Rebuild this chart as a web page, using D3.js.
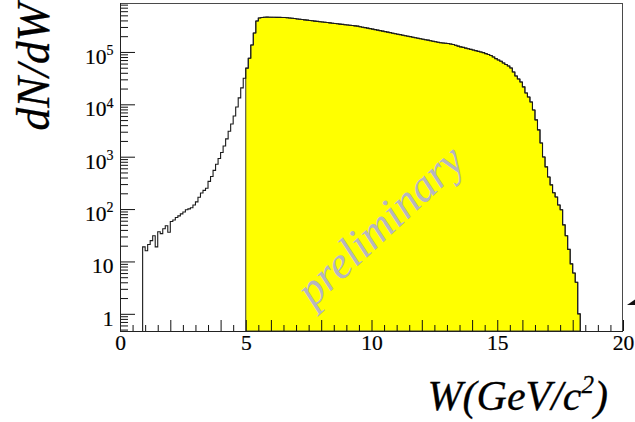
<!DOCTYPE html>
<html>
<head>
<meta charset="utf-8">
<script src="https://cdn.jsdelivr.net/npm/d3@7"></script>
<style>
  html, body { margin: 0; padding: 0; background: #ffffff; }
  svg { display: block; }
</style>
</head>
<body>
<svg id="chart" width="635" height="422"></svg>
<script>
// Invariant-mass spectrum W, 0.1 GeV/c^2 bins starting at 0.9 GeV/c^2
const binStart = 0.9;
const binWidth = 0.1;
const counts = [
  19, 16, 21, 25, 31, 19, 37, 34, 42, 48,
  36, 58, 62, 69, 74, 81, 88, 97, 101, 106,
  120, 137, 168, 203, 228, 249, 338, 420, 548, 717,
  925, 1200, 1600, 2190, 3060, 4200, 6000, 8900, 13300, 20600,
  31500, 49000, 76000, 136000, 230000, 390000, 446000, 455000, 460000, 462000,
  461000, 460000, 459000, 458000, 457000, 456000, 455000, 450000, 444000, 440000,
  434000, 427000, 422000, 416000, 410000, 405000, 399000, 394000, 388000, 383000,
  378000, 374000, 369000, 364000, 359000, 354000, 350000, 345000, 340000, 336000,
  331000, 328000, 323000, 319000, 315000, 311000, 303000, 297000, 291000, 285000,
  279000, 273000, 267000, 261000, 255000, 250000, 244000, 239000, 234000, 228000,
  223000, 218000, 214000, 209000, 204000, 200000, 196000, 191000, 187000, 183000,
  179000, 175000, 171000, 168000, 164000, 160000, 157000, 153000, 150000, 148000,
  146500, 144500, 142000, 139000, 134000, 129000, 125000, 122000, 118500, 115000,
  112000, 108600, 105800, 102600, 100000, 97000, 93000, 89600, 85400, 80300,
  74600, 70300, 66500, 61600, 57600, 54000, 49500, 41500, 34800, 30500,
  26700, 21500, 16500, 13800, 11100, 7800, 5040, 3250, 1830, 990,
  640, 410, 290, 205, 170, 120, 97, 50, 31, 17,
  9, 6, 4, 1
];
// selection cut: W > 5 GeV/c^2 is shaded
const cutW = 5.0;

// axis ranges and tick labels
const xDomain = [0, 20];
const yDomain = [0.47, 8.6e5];
const xTickLabels = [0, 5, 10, 15, 20];
const yTickValues = [1, 10, 100, 1000, 10000, 100000];
const yTickBase = ["1", "10", "10", "10", "10", "10"];
const yTickExp = ["", "", "2", "3", "4", "5"];

const serif = "'Liberation Serif', Tinos, Times, serif";

const svg = d3.select("#chart");
const plot = { left: 120, right: 623, top: 3, bottom: 331 };

const x = d3.scaleLinear().domain(xDomain).range([plot.left, plot.right]);
const y = d3.scaleLog().domain(yDomain).range([plot.bottom, plot.top]);

const bins = counts.map((c, i) => ({
  lo: +(binStart + i * binWidth).toFixed(2),
  hi: +(binStart + (i + 1) * binWidth).toFixed(2),
  n: c
}));

// histogram outline as a step polygon closed to the frame bottom
function stepPoints(list) {
  const pts = [[list[0].lo, null]];
  list.forEach(b => { pts.push([b.lo, b.n]); pts.push([b.hi, b.n]); });
  pts.push([list[list.length - 1].hi, null]);
  return pts;
}
const stepLine = d3.line()
  .x(d => x(d[0]))
  .y(d => d[1] == null ? y(yDomain[0]) : y(d[1]));

const selected = bins.filter(b => b.lo >= cutW - 1e-9);

svg.append("path")
  .attr("d", stepLine(stepPoints(selected)) + "Z")
  .attr("fill", "#ffff00")
  .attr("stroke", "#3a3a3a")
  .attr("stroke-width", 1);

svg.append("path")
  .attr("d", stepLine(stepPoints(bins)))
  .attr("fill", "none")
  .attr("stroke", "#1a1a1a")
  .attr("stroke-width", 1.1);

// watermark
svg.append("text")
  .attr("transform", "translate(390,236) rotate(-43)")
  .attr("text-anchor", "middle")
  .attr("font-family", serif)
  .attr("font-style", "italic")
  .attr("font-size", 45)
  .attr("fill", "#b6b6c0")
  .text("preliminary");

// x axis: 0.5 minor ticks, longer ticks on even values and labelled values
const xMinor = d3.range(0.5, 20, 0.5).filter(v => v % 2 !== 0 && v % 5 !== 0);
const xMid = d3.range(0, 20.01, 1).filter(v => v % 2 === 0 || v % 5 === 0);

const gxMinor = svg.append("g")
  .attr("transform", `translate(0,${plot.bottom})`)
  .call(d3.axisBottom(x).tickValues(xMinor).tickSizeInner(-6).tickSizeOuter(0).tickFormat(""));
const gxMid = svg.append("g")
  .attr("transform", `translate(0,${plot.bottom})`)
  .call(d3.axisBottom(x).tickValues(xMid).tickSizeInner(-11).tickSizeOuter(0).tickFormat(""));
const gxLab = svg.append("g")
  .attr("transform", `translate(0,${plot.bottom})`)
  .call(d3.axisBottom(x).tickValues(xTickLabels).tickSize(0).tickPadding(0).tickFormat(d3.format("d")));
[gxMinor, gxMid, gxLab].forEach(g => {
  g.select(".domain").remove();
  g.selectAll("line").attr("stroke", "#111");
  g.attr("font-family", serif).attr("font-size", 21);
});
gxLab.selectAll("text")
  .attr("y", 18.5).attr("dy", 0)
  .attr("font-family", serif).attr("font-size", 21.5).attr("fill", "#000")
  .attr("stroke", "#000").attr("stroke-width", 0.2);

// y axis: log ticks pointing into the frame
const yMinor = [];
for (let e = -1; e <= 5; e++) {
  for (let m = 2; m <= 9; m++) {
    const v = m * Math.pow(10, e);
    if (v >= yDomain[0] && v <= yDomain[1]) yMinor.push(v);
  }
}
const gyMinor = svg.append("g")
  .attr("transform", `translate(${plot.left},0)`)
  .call(d3.axisLeft(y).tickValues(yMinor).tickSizeInner(-8).tickSizeOuter(0).tickFormat(""));
const gyMajor = svg.append("g")
  .attr("transform", `translate(${plot.left},0)`)
  .call(d3.axisLeft(y).tickValues(yTickValues).tickSizeInner(-15).tickSizeOuter(0).tickPadding(6.5).tickFormat(""));
[gyMinor, gyMajor].forEach(g => {
  g.select(".domain").remove();
  g.selectAll("line").attr("stroke", "#111");
  g.attr("font-family", serif).attr("font-size", 21);
});
gyMajor.selectAll(".tick text").each(function (d, i) {
  const t = d3.select(this)
    .attr("x", -6.5)
    .attr("dy", 0)
    .attr("y", 11.3)
    .attr("font-family", serif)
    .attr("font-size", 21.5)
    .attr("fill", "#000")
    .attr("stroke", "#000")
    .attr("stroke-width", 0.2)
    .attr("text-anchor", "end");
  t.text(null);
  t.append("tspan").text(yTickBase[i]);
  if (yTickExp[i]) {
    t.append("tspan").attr("font-size", 14).attr("dy", -8.5).text(yTickExp[i]);
  }
});

// frame
svg.append("rect")
  .attr("x", plot.left + 0.5)
  .attr("y", plot.top + 0.5)
  .attr("width", plot.right - plot.left - 1)
  .attr("height", plot.bottom - plot.top)
  .attr("fill", "none")
  .attr("stroke", "#4a4a4a")
  .attr("stroke-width", 1);
svg.append("line")
  .attr("x1", plot.left + 0.5).attr("x2", plot.left + 0.5)
  .attr("y1", plot.top).attr("y2", plot.bottom + 0.5)
  .attr("stroke", "#222");
svg.append("line")
  .attr("x1", plot.left).attr("x2", plot.right)
  .attr("y1", plot.bottom + 0.5).attr("y2", plot.bottom + 0.5)
  .attr("stroke", "#222");

// axis titles
svg.append("text")
  .attr("x", 608)
  .attr("y", 410)
  .attr("text-anchor", "end")
  .attr("font-family", serif)
  .attr("font-style", "italic")
  .attr("font-size", 42)
  .attr("fill", "#000")
  .attr("stroke", "#000")
  .attr("stroke-width", 0.3)
  .call(t => {
    t.append("tspan").text("W(GeV/c");
    t.append("tspan").attr("font-size", 25).attr("dy", -17).text("2");
    t.append("tspan").attr("dy", 17).text(")");
  });

svg.append("text")
  .attr("transform", "translate(49,3) rotate(-90)")
  .attr("text-anchor", "end")
  .attr("font-family", serif)
  .attr("font-style", "italic")
  .attr("font-size", 46)
  .attr("fill", "#000")
  .attr("stroke", "#000")
  .attr("stroke-width", 0.3)
  .text("dN/dW");

// small arrow head at the right edge
svg.append("path")
  .attr("d", d3.line()([[plot.right + 4, 305], [plot.right + 12, 299.5], [plot.right + 12, 305]]) + "Z")
  .attr("fill", "#111");
</script>
</body>
</html>
